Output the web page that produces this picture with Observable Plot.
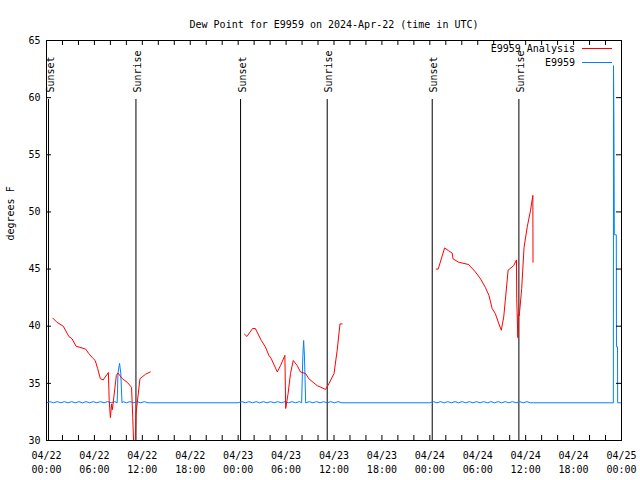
<!DOCTYPE html>
<html><head><meta charset="utf-8">
<script src="https://cdn.jsdelivr.net/npm/d3@7"></script>
<script src="https://cdn.jsdelivr.net/npm/@observablehq/plot@0.6"></script>
<style>body{margin:0;background:#fff}</style>
</head><body><div id="chart"></div>
<script>
const title = "Dew Point for E9959 on 2024-Apr-22 (time in UTC)";
const yLabel = "degrees F";
const seriesNames = ["E9959 Analysis", "E9959"];
const seriesColors = ["#ff0000", "#0080ff"];
const startUTC = Date.UTC(2024, 3, 22);

// E9959 Analysis (hours after 04/22 00:00 UTC); NaN = gap
const redHours = [
  0.8, 1.3, 2.1, 2.8, 3.2, 3.7, 4.9, 5.3, 5.8, 6.1, 6.4, 6.75, 7.1, 7.75, 7.85, 8.0, 8.15, 8.25, 8.75, 8.95, 9.5, 10.1, 10.65, 10.8, 10.95, 11.1, 11.2, 11.7, 12.4, 13.0,
  18.0,
  24.8, 25.1, 25.8, 26.15, 26.9, 27.4, 27.85, 28.15, 28.9, 29.3, 29.85, 29.95, 30.25, 30.55, 30.9, 31.4, 31.8, 32.45, 32.85, 33.9, 34.95, 35.35, 36.0, 36.4, 36.75, 37.0,
  42.0,
  48.8, 49.05, 49.85, 50.35, 50.8, 50.9, 51.6, 52.85, 53.7, 54.35, 54.95, 55.4, 55.8, 56.2, 56.65, 56.95, 57.25, 57.45, 57.8, 58.5, 58.8, 58.85, 58.88, 59.02, 59.08, 59.2, 59.5, 59.8, 60.2, 60.6, 60.9, 60.92
];
const redValues = [
  40.7, 40.35, 40.0, 39.1, 38.9, 38.25, 38.0, 37.6, 37.2, 37.0, 36.3, 35.4, 35.3, 35.95, 33.5, 32.0, 33.2, 32.7, 35.7, 35.9, 35.4, 35.1, 34.65, 32.0, 29.0, 29.5, 32.3, 35.4, 35.8, 36.0,
  NaN,
  39.3, 39.1, 39.8, 39.8, 38.75, 38.2, 37.45, 37.15, 36.0, 36.55, 37.45, 32.8, 34.1, 35.85, 37.0, 36.55, 36.0, 35.85, 35.4, 34.8, 34.47, 34.96, 35.85, 37.9, 40.2, 40.2,
  NaN,
  45.0, 45.0, 46.85, 46.6, 46.4, 45.9, 45.6, 45.4, 44.75, 44.15, 43.4, 42.7, 41.55, 41.1, 40.2, 39.65, 40.8, 42.25, 44.9, 45.3, 45.75, 45.8, 42.4, 39.0, 41.0, 40.9, 43.3, 46.9, 48.7, 50.1, 51.45, 45.6
];

// E9959 observations
const blueHours = [
  0.0, 0.45, 0.9, 1.35, 1.8, 2.25, 2.7, 3.15, 3.6, 4.05, 4.5, 4.95, 5.4, 5.85, 6.3, 6.75, 7.2, 7.65, 8.1, 8.55, 8.85, 8.95, 9.15, 9.3, 9.45, 9.6, 10.0, 10.45, 10.9, 11.35, 11.8, 12.25, 12.7, 13.0,
  24.0, 24.45, 24.9, 25.35, 25.8, 26.25, 26.7, 27.15, 27.6, 28.05, 28.5, 28.95, 29.4, 29.85, 30.3, 30.75, 31.2, 31.65, 31.95, 32.02, 32.1, 32.2, 32.3, 32.38, 32.45, 32.9, 33.35, 33.8, 34.25, 34.7, 35.15, 35.6, 36.05, 36.5, 37.0,
  48.0, 48.45, 48.9, 49.35, 49.8, 50.25, 50.7, 51.15, 51.6, 52.05, 52.5, 52.95, 53.4, 53.85, 54.3, 54.75, 55.2, 55.65, 56.1, 56.55, 57.0, 57.45, 57.9, 58.35, 58.8, 59.25, 59.7, 60.15, 60.6, 61.0,
  70.98, 71.0, 71.05, 71.1, 71.35, 71.37, 71.5, 71.52, 72.0
];
const blueValues = [
  33.3, 33.4, 33.3, 33.4, 33.3, 33.4, 33.3, 33.4, 33.3, 33.4, 33.3, 33.4, 33.3, 33.4, 33.3, 33.4, 33.3, 33.4, 33.3, 33.4, 33.3, 35.9, 36.75, 35.9, 33.3, 33.4, 33.3, 33.4, 33.3, 33.4, 33.3, 33.4, 33.3, 33.3,
  33.3, 33.4, 33.3, 33.4, 33.3, 33.4, 33.3, 33.4, 33.3, 33.4, 33.3, 33.4, 33.3, 33.4, 33.3, 33.4, 33.3, 33.4, 33.3, 35.3, 37.4, 38.75, 37.4, 35.3, 33.3, 33.4, 33.3, 33.4, 33.3, 33.4, 33.3, 33.4, 33.3, 33.4, 33.3,
  33.3, 33.4, 33.3, 33.4, 33.3, 33.4, 33.3, 33.4, 33.3, 33.4, 33.3, 33.4, 33.3, 33.4, 33.3, 33.4, 33.3, 33.4, 33.3, 33.4, 33.3, 33.4, 33.3, 33.4, 33.3, 33.4, 33.3, 33.4, 33.3, 33.3,
  33.3, 62.8, 57.8, 48.0, 48.0, 38.2, 38.2, 33.3, 33.3
];

const sunHours = [0.25, 11.2, 24.3, 35.15, 48.3, 59.15];
const sunLabels = ["Sunset", "Sunrise", "Sunset", "Sunrise", "Sunset", "Sunrise"];
const yTicks = [30, 35, 40, 45, 50, 55, 60, 65];
const xLabelHours = [0, 6, 12, 18, 24, 30, 36, 42, 48, 54, 60, 66, 72];
const xTickHours = [2, 4, 6, 8, 10, 12, 14, 16, 18, 20, 22, 24, 26, 28, 30, 32, 34, 36, 38, 40, 42, 44, 46, 48, 50, 52, 54, 56, 58, 60, 62, 64, 66, 68, 70];

const toDate = h => new Date(startUTC + h * 3600e3);
const red = redHours.map((h, i) => ({t: toDate(h), v: redValues[i]}));
const blue = blueHours.map((h, i) => ({t: toDate(h), v: blueValues[i]}));
const sun = sunHours.map((h, i) => ({t: toDate(h), label: sunLabels[i]}));
const xLabelDates = xLabelHours.map(toDate);
const xTickDates = xTickHours.map(toDate);
const fmt = d3.utcFormat("%m/%d\n%H:%M");

const legend = (index, scales, values, dims) => {
  const g = d3.create("svg:g").attr("font-family", "DejaVu Sans Mono").attr("font-size", 10);
  const xr = dims.width - dims.marginRight;
  const yt = dims.marginTop;
  seriesNames.forEach((name, i) => {
    const y = yt + 8.5 + i * 14;
    g.append("text").attr("x", xr - 46).attr("y", y).attr("dy", "0.32em")
      .attr("text-anchor", "end").attr("fill", "black").text(name);
    g.append("line").attr("x1", xr - 39).attr("x2", xr - 9).attr("y1", y).attr("y2", y)
      .attr("stroke", seriesColors[i]).attr("stroke-width", 1);
  });
  return g.node();
};

const chart = Plot.plot({
  width: 640, height: 480,
  marginLeft: 46, marginRight: 19, marginTop: 40, marginBottom: 40,
  style: {fontFamily: "DejaVu Sans Mono", fontSize: "10px", background: "white", color: "black"},
  x: {type: "utc", domain: [toDate(0), toDate(72)], axis: null},
  y: {domain: [30, 65], axis: null},
  marks: [
    Plot.ruleX(sun, {x: "t", insetTop: 59, stroke: "black", strokeWidth: 1}),
    Plot.text(sun, {x: "t", text: "label", frameAnchor: "top", rotate: -90, textAnchor: "start", dy: 52, dx: -2, fill: "black"}),
    Plot.line(blue, {x: "t", y: "v", stroke: seriesColors[1], strokeWidth: 1, clip: true}),
    Plot.line(red, {x: "t", y: "v", stroke: seriesColors[0], strokeWidth: 1, clip: true}),
    Plot.ruleX(xTickDates, {x: d => d, insetTop: 395, stroke: "black"}),
    Plot.ruleX(xTickDates, {x: d => d, insetBottom: 395, stroke: "black"}),
    Plot.ruleY(yTicks, {y: d => d, insetRight: 570, stroke: "black"}),
    Plot.ruleY(yTicks, {y: d => d, insetLeft: 570, stroke: "black"}),
    Plot.frame({stroke: "black", strokeWidth: 1}),
    Plot.text(xLabelDates, {x: d => d, text: d => fmt(d), frameAnchor: "bottom", lineAnchor: "top", dy: 8, lineHeight: 1.45, fill: "black"}),
    Plot.text(yTicks, {y: d => d, text: d => String(d), frameAnchor: "left", textAnchor: "end", dx: -6, fill: "black"}),
    Plot.text([title], {frameAnchor: "top", dy: -20, fill: "black"}),
    Plot.text([yLabel], {frameAnchor: "left", dx: -36, rotate: -90, fill: "black"}),
    legend
  ]
});
document.getElementById("chart").appendChild(chart);
</script>
</body></html>
